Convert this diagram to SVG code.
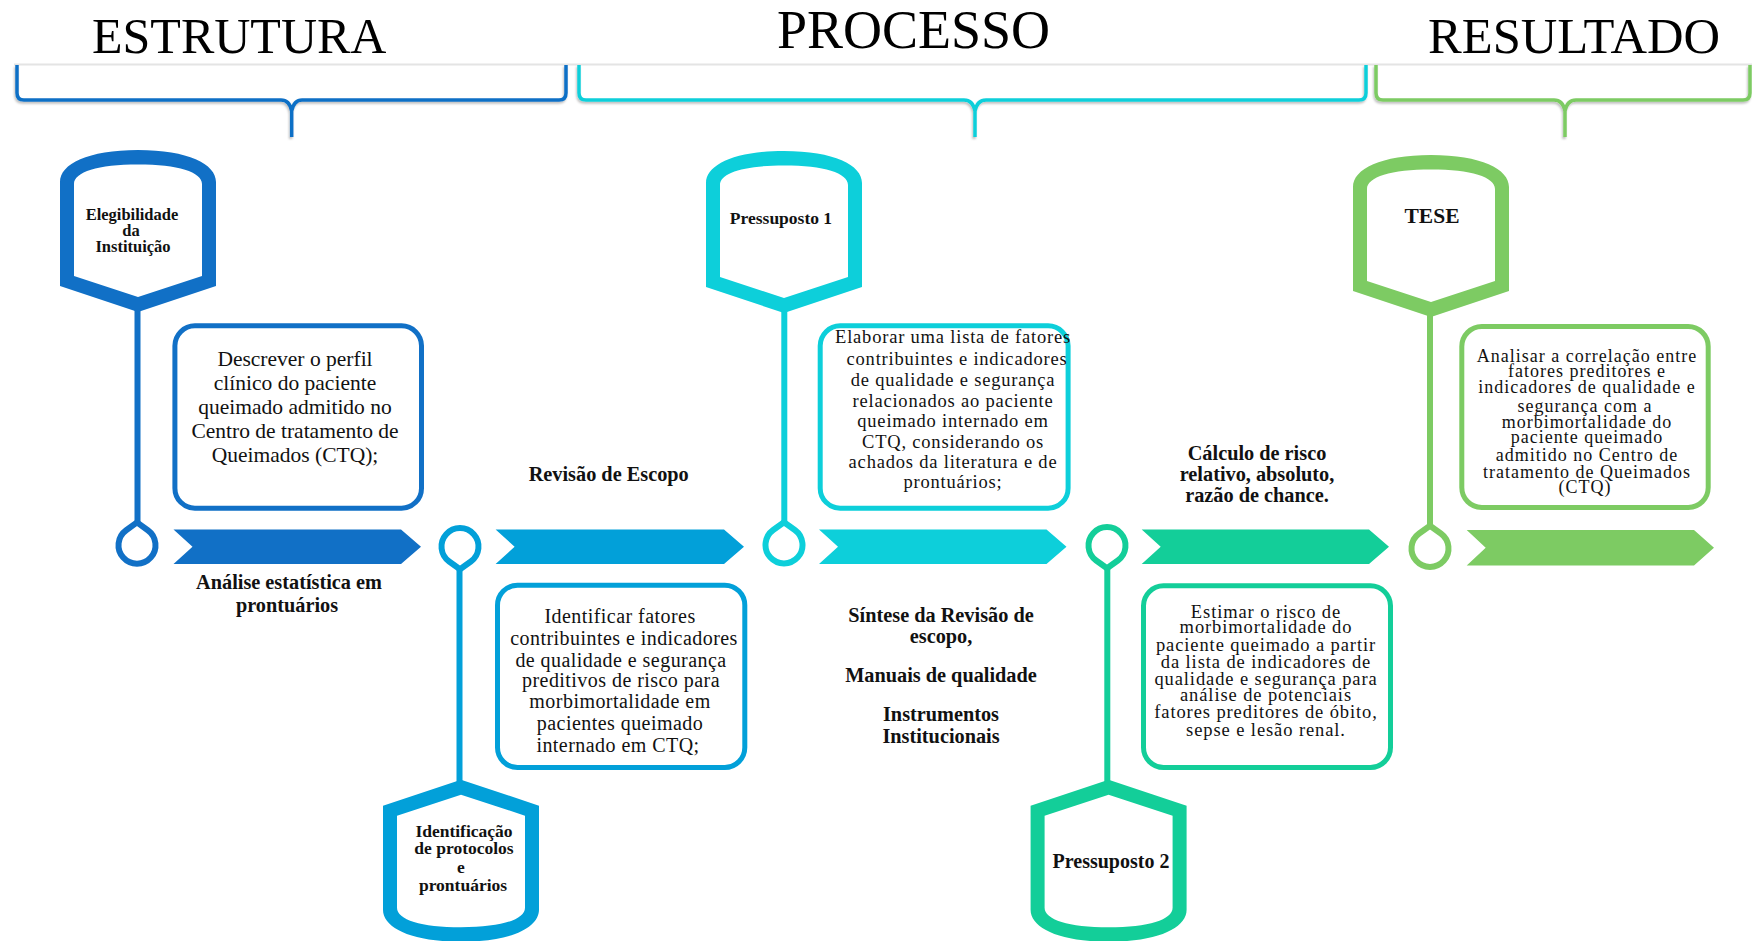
<svg xmlns="http://www.w3.org/2000/svg" width="1752" height="941" viewBox="0 0 1752 941">
<defs>
<style>
text{font-family:"Liberation Serif","Times New Roman",serif;fill:#111;}
.title{font-size:50px;fill:#000;}
.b{font-weight:bold;text-anchor:middle;}
.lab{font-size:20.3px;}
.t{text-anchor:middle;}
.brace{fill:none;stroke-width:3.5;stroke-linejoin:round;filter:url(#sh);}
.box{fill:#fff;stroke-width:5;}
.pin{fill:#fff;stroke-width:6;}
.stem{stroke-width:6;fill:none;}
.c1{stroke:#1170C6;fill:#1170C6;}
.c2{stroke:#02A0D9;fill:#02A0D9;}
.c3{stroke:#0DCFDA;fill:#0DCFDA;}
.c4{stroke:#13CE99;fill:#13CE99;}
.c5{stroke:#7DCB63;fill:#7DCB63;}
.f1{fill:#1170C6;}.f2{fill:#02A0D9;}.f3{fill:#0DCFDA;}.f4{fill:#13CE99;}.f5{fill:#7DCB63;}
.s1{stroke:#1170C6;}.s2{stroke:#02A0D9;}.s3{stroke:#0DCFDA;}.s4{stroke:#13CE99;}.s5{stroke:#7DCB63;}
</style>
<filter id="sh" x="-5%" y="-30%" width="110%" height="170%"><feDropShadow dx="-1" dy="2" stdDeviation="1.2" flood-color="#000" flood-opacity="0.25"/></filter>
<path id="hex" fill-rule="evenodd" d="M-78,136 V32 C-78,14 -50,0 0,0 C50,0 78,14 78,32 V136 L0,162 Z M-64,126 V34 C-64,22 -40,14.5 0,14.5 C40,14.5 64,22 64,34 V126 L0,147 Z"/>
<path id="drop" d="M0,-22.8 L10.84,-15 A18.5,18.5 0 1 1 -10.84,-15 Z"/>
</defs>
<rect width="1752" height="941" fill="#fff"/>
<line x1="14" y1="64.5" x2="1752" y2="64.5" stroke="#e4e4e4" stroke-width="2"/>

<g id="titles">
<text class="title" x="92" y="53">ESTRUTURA</text>
<text class="title" x="777" y="47.5" style="font-size:54px">PROCESSO</text>
<text class="title" x="1428" y="53" textLength="292" lengthAdjust="spacingAndGlyphs">RESULTADO</text>
</g>

<g id="braces">
<path class="brace s1" d="M17,65 V93 Q17,100 24,100 H281 Q289.5,100 291.7,111 V137 M566,65 V93 Q566,100 559,100 H302 Q294,100 291.7,111"/>
<path class="brace s3" d="M579,65 V93 Q579,100 586,100 H964 Q972.8,100 975,111 V137 M1366,65 V93 Q1366,100 1359,100 H986 Q977.2,100 975,111"/>
<path class="brace s5" d="M1376,65 V93 Q1376,100 1383,100 H1554 Q1562.8,100 1565,111 V137 M1750,65 V93 Q1750,100 1743,100 H1576 Q1567.2,100 1565,111"/>
</g>

<g id="connectors">
<line class="stem s1" x1="137.5" y1="305" x2="137.5" y2="523"/>
<line class="stem s2" x1="459.5" y1="568" x2="459.5" y2="790"/>
<line class="stem s3" x1="784.3" y1="305" x2="784.3" y2="523"/>
<line class="stem s4" x1="1107.3" y1="568" x2="1107.3" y2="790"/>
<line class="stem s5" x1="1430" y1="310" x2="1430" y2="526"/>
<use href="#drop" class="pin s1" transform="translate(137,545.2)"/>
<use href="#drop" class="pin s2" transform="translate(460,546.5) scale(1,-1)"/>
<use href="#drop" class="pin s3" transform="translate(784,545)"/>
<use href="#drop" class="pin s4" transform="translate(1107,545.5) scale(1,-1)"/>
<use href="#drop" class="pin s5" transform="translate(1430,548.5)"/>
</g>

<g id="timeline">
<polygon id="arrow1" class="f1" points="173.5,529.5 401,529.5 421,546.75 401,564 173.5,564 192.5,546.75"/>
<polygon id="arrow2" class="f2" points="495.6,529.5 724,529.5 744,546.75 724,564 495.6,564 514.6,546.75"/>
<polygon id="arrow3" class="f3" points="819,529.5 1046.5,529.5 1066.5,546.75 1046.5,564 819,564 838,546.75"/>
<polygon id="arrow4" class="f4" points="1141.7,529.5 1369,529.5 1389,546.75 1369,564 1141.7,564 1160.7,546.75"/>
<polygon id="arrow5" class="f5" points="1466.7,530 1694,530 1714,547.75 1694,565.5 1466.7,565.5 1485.7,547.75"/>
</g>

<g id="hex-elegibilidade">
<use href="#hex" class="f1" transform="translate(138,150)"/>
<text class="b" style="font-size:16.5px"><tspan x="132" y="220">Elegibilidade</tspan><tspan x="131" y="236">da</tspan><tspan x="133" y="252.3">Instituição</tspan></text>
</g>
<g id="hex-pressuposto1">
<use href="#hex" class="f3" transform="translate(784,151)"/>
<text class="b" x="781" y="224" style="font-size:17.5px">Pressuposto 1</text>
</g>
<g id="hex-tese">
<use href="#hex" class="f5" transform="translate(1431,155)"/>
<text class="b" x="1432" y="223.3" style="font-size:21.5px">TESE</text>
</g>
<g id="hex-identificacao">
<use href="#hex" class="f2" transform="translate(461,941.7) scale(1,-1)"/>
<text class="b" style="font-size:17.5px"><tspan x="464" y="836.7">Identificação</tspan><tspan x="464" y="854">de protocolos</tspan><tspan x="461" y="873.3">e</tspan><tspan x="463" y="891">prontuários</tspan></text>
</g>
<g id="hex-pressuposto2">
<use href="#hex" class="f4" transform="translate(1108.6,941.7) scale(1,-1)"/>
<text class="b" x="1111" y="868.3" style="font-size:20px">Pressuposto 2</text>
</g>

<g id="box-descrever">
<rect class="box s1" x="174.9" y="325.8" width="246.6" height="182.4" rx="20"/>
<text class="t" style="font-size:21.5px"><tspan x="295" y="366">Descrever o perfil</tspan><tspan x="295" y="390">clínico do paciente</tspan><tspan x="295" y="414">queimado admitido no</tspan><tspan x="295" y="438">Centro de tratamento de</tspan><tspan x="295" y="462">Queimados (CTQ);</tspan></text>
</g>
<g id="box-elaborar">
<rect class="box s3" x="820.2" y="325.8" width="247.9" height="182.4" rx="20"/>
<text class="t" style="font-size:18.5px;letter-spacing:0.8px"><tspan x="953" y="343.3">Elaborar uma lista de fatores</tspan><tspan x="957" y="365">contribuintes e indicadores</tspan><tspan x="953" y="386">de qualidade e segurança</tspan><tspan x="953" y="406.7">relacionados ao paciente</tspan><tspan x="953" y="426.7">queimado internado em</tspan><tspan x="953" y="448.3">CTQ, considerando os</tspan><tspan x="953" y="467.7">achados da literatura e de</tspan><tspan x="953" y="488.3">prontuários;</tspan></text>
</g>
<g id="box-analisar">
<rect class="box s5" x="1461.8" y="326.5" width="246.4" height="181" rx="20"/>
<text class="t" style="font-size:18px;letter-spacing:1px"><tspan x="1587" y="361.7">Analisar a correlação entre</tspan><tspan x="1587" y="376.7">fatores preditores e</tspan><tspan x="1587" y="393.3">indicadores de qualidade e</tspan><tspan x="1585" y="411.7">segurança com a</tspan><tspan x="1587" y="428.3">morbimortalidade do</tspan><tspan x="1587" y="443.3">paciente queimado</tspan><tspan x="1587" y="461">admitido no Centro de</tspan><tspan x="1587" y="478.3">tratamento de Queimados</tspan><tspan x="1585" y="493.3">(CTQ)</tspan></text>
</g>
<g id="box-identificar">
<rect class="box s2" x="497.5" y="585.2" width="247.3" height="182.3" rx="20"/>
<text class="t" style="font-size:20px;letter-spacing:0.45px"><tspan x="620" y="623.3">Identificar fatores</tspan><tspan x="624" y="645">contribuintes e indicadores</tspan><tspan x="621" y="666.7">de qualidade e segurança</tspan><tspan x="621" y="686.7">preditivos de risco para</tspan><tspan x="620" y="707.7">morbimortalidade em</tspan><tspan x="620" y="730">pacientes queimado</tspan><tspan x="618" y="751.7">internado em CTQ;</tspan></text>
</g>
<g id="box-estimar">
<rect class="box s4" x="1143.5" y="585.8" width="247" height="181.7" rx="20"/>
<text class="t" style="font-size:18.5px;letter-spacing:0.9px"><tspan x="1266" y="618.3">Estimar o risco de</tspan><tspan x="1266" y="632.7">morbimortalidade do</tspan><tspan x="1266" y="650.7">paciente queimado a partir</tspan><tspan x="1266" y="668.3">da lista de indicadores de</tspan><tspan x="1266" y="685">qualidade e segurança para</tspan><tspan x="1266" y="700.7">análise de potenciais</tspan><tspan x="1266" y="718.3">fatores preditores de óbito,</tspan><tspan x="1266" y="735.7">sepse e lesão renal.</tspan></text>
</g>

<g id="label-analise">
<text class="b lab"><tspan x="289" y="589.3">Análise estatística em</tspan><tspan x="287" y="611.7">prontuários</tspan></text>
</g>
<g id="label-revisao">
<text class="b lab" x="608.7" y="481">Revisão de Escopo</text>
</g>
<g id="label-sintese">
<text class="b lab"><tspan x="941" y="621.5">Síntese da Revisão de</tspan><tspan x="941" y="642.7">escopo,</tspan><tspan x="941" y="681.7">Manuais de qualidade</tspan><tspan x="941" y="721">Instrumentos</tspan><tspan x="941" y="742.7">Institucionais</tspan></text>
</g>
<g id="label-calculo">
<text class="b lab"><tspan x="1257" y="460">Cálculo de risco</tspan><tspan x="1257" y="481">relativo, absoluto,</tspan><tspan x="1257" y="502">razão de chance.</tspan></text>
</g>
</svg>
